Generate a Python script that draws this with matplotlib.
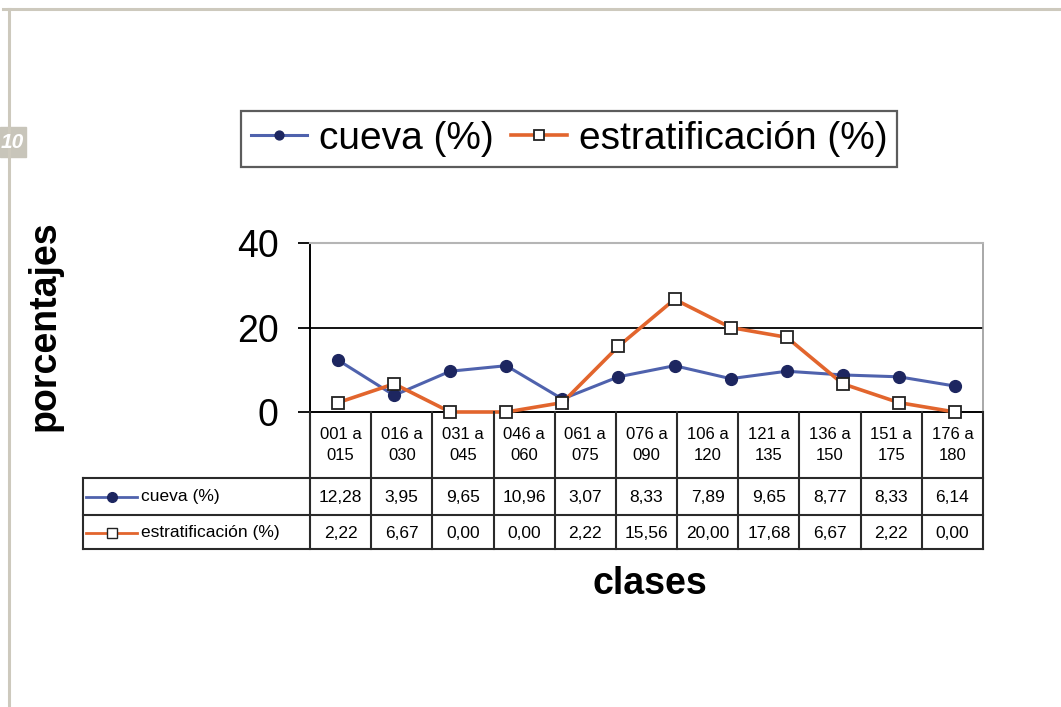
import matplotlib
matplotlib.use("Agg")
import matplotlib.pyplot as plt
from matplotlib.lines import Line2D
from matplotlib.patches import Rectangle

plt.rcParams['font.family'] = ['Liberation Sans', 'DejaVu Sans']

# series as drawn in the chart (12 points)
cueva = [12.28, 3.95, 9.65, 10.96, 3.07, 8.33, 10.96, 7.89, 9.65, 8.77, 8.33, 6.14]
estrat = [2.22, 6.67, 0.00, 0.00, 2.22, 15.56, 26.67, 20.00, 17.68, 6.67, 2.22, 0.00]

# data table printed under the chart (11 columns)
tabla_clases = ["001 a\n015", "016 a\n030", "031 a\n045", "046 a\n060", "061 a\n075",
                "076 a\n090", "106 a\n120", "121 a\n135", "136 a\n150", "151 a\n175",
                "176 a\n180"]
tabla_idx = [0, 1, 2, 3, 4, 5, 7, 8, 9, 10, 11]

BLUE = '#4f62ad'
NAVY = '#1d2660'
ORANGE = '#e2652d'

W, H = 1061, 707
def fx(px):
    return px / W
def fy(py):
    return 1 - py / H

fig = plt.figure(figsize=(W / 100, H / 100), dpi=100)

# page frame
fig.add_artist(Line2D([fx(3), 1], [fy(9), fy(9)], color='#cdc9bd', lw=2.2))
fig.add_artist(Line2D([fx(9), fx(9)], [fy(9), 0], color='#cdc9bd', lw=2.2))
fig.add_artist(Rectangle((0, fy(157)), fx(26), (157 - 127) / H, color='#c8c5ba'))
fig.text(fx(24), fy(143), '10', color='white', fontsize=15, fontweight='bold',
         fontstyle='italic', ha='right', va='center')

# plot area
ax = fig.add_axes([fx(310), fy(412), fx(983) - fx(310), fy(243) - fy(412)])
x = list(range(len(cueva)))
l1, = ax.plot(x, cueva, color=BLUE, lw=2.2, marker='o', ms=8.5, mfc=NAVY, mec=NAVY,
              zorder=3, clip_on=False, label='cueva (%)')
l2, = ax.plot(x, estrat, color=ORANGE, lw=2.6, marker='s', ms=9, mfc='white',
              mec='#222222', mew=1.3, zorder=4, clip_on=False, label='estratificación (%)')
ax.set_xlim(-0.5, len(cueva) - 0.5)
ax.set_ylim(0, 40)
ax.set_yticks([0, 20, 40])
ax.set_xticks([])
ax.axhline(20, color='black', lw=1.3, zorder=1)
ax.spines['top'].set_color('#b5b5b5')
ax.spines['top'].set_linewidth(1.5)
ax.spines['right'].set_color('#9a9a9a')
ax.spines['right'].set_linewidth(1.2)
ax.spines['left'].set_linewidth(1.4)
ax.spines['bottom'].set_linewidth(1.4)
ax.tick_params(axis='y', length=8.6, width=1.3, pad=14, labelsize=27)

fig.text(fx(45), fy(326), 'porcentajes', rotation=90, fontsize=27, fontweight='bold',
         ha='center', va='center')
fig.text(fx(650), fy(584), 'clases', fontsize=27, fontweight='bold',
         ha='center', va='center')

# legend
fig.legend(handles=[l1, l2], loc='center', bbox_to_anchor=(fx(569), fy(139)),
           ncol=2, fontsize=28, frameon=True, fancybox=False, edgecolor='#333333',
           handlelength=1.45, handletextpad=0.3, columnspacing=0.45, borderpad=0.25,
           markerscale=0.75)
fig.legends[0].get_frame().set_linewidth(1.6)

# data table
ncol = len(tabla_clases)
lab_w = (310 - 83) / ((983 - 310) / ncol)
tab = fig.add_axes([fx(83), fy(549), fx(983) - fx(83), fy(412) - fy(549)])
tab.set_xlim(-lab_w, ncol)
tab.set_ylim(137, 0)
tab.axis('off')
lc = '#2a2a2a'
for j in range(ncol + 1):
    tab.plot([j, j], [0, 137], color=lc, lw=1.5, clip_on=False)
for yy in [66, 103, 137]:
    tab.plot([-lab_w, ncol], [yy, yy], color=lc, lw=1.5, clip_on=False)
tab.plot([-lab_w, -lab_w], [66, 137], color=lc, lw=1.5, clip_on=False)

for j, lab in enumerate(tabla_clases):
    tab.text(j + 0.5, 33, lab, ha='center', va='center', fontsize=12, linespacing=1.55)
    i = tabla_idx[j]
    tab.text(j + 0.5, 85, f"{cueva[i]:.2f}".replace('.', ','), ha='center', va='center',
             fontsize=12.5)
    tab.text(j + 0.5, 121, f"{estrat[i]:.2f}".replace('.', ','), ha='center', va='center',
             fontsize=12.5)

k0, k1 = -lab_w + 0.05, -2.82
tab.plot([k0, k1], [85, 85], color=BLUE, lw=2)
tab.plot([(k0 + k1) / 2], [85], marker='o', ms=7, color=NAVY)
tab.text(-2.76, 85, 'cueva (%)', ha='left', va='center', fontsize=12.5)
tab.plot([k0, k1], [121, 121], color=ORANGE, lw=2)
tab.plot([(k0 + k1) / 2], [121], marker='s', ms=7, mfc='white', mec='#222222')
tab.text(-2.76, 121, 'estratificación (%)', ha='left', va='center', fontsize=12.5)

fig.savefig('out.png', dpi=100)
